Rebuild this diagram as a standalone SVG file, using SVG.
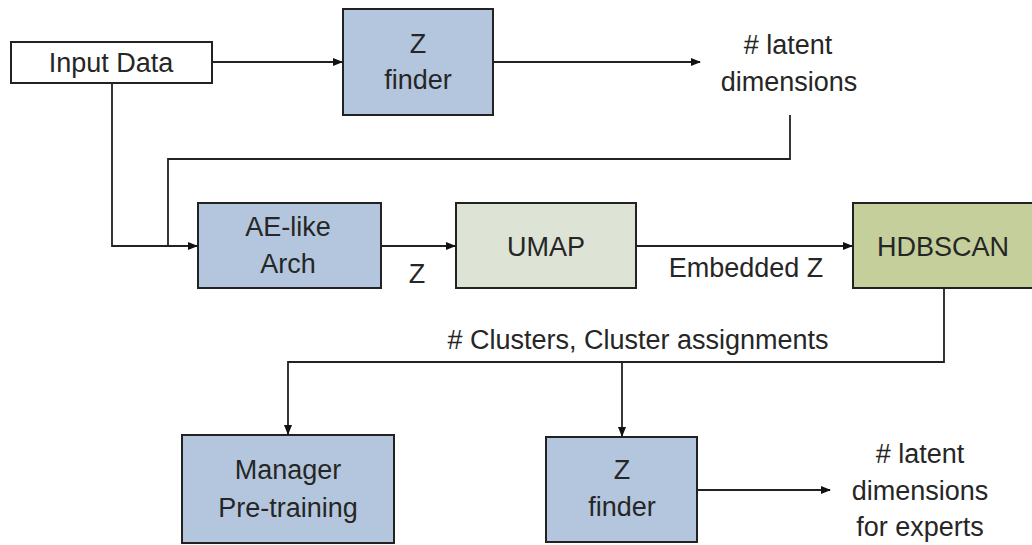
<svg xmlns="http://www.w3.org/2000/svg" width="1032" height="545" viewBox="0 0 1032 545">
<defs>
<marker id="ah" markerWidth="10" markerHeight="8" refX="9" refY="4" orient="auto" markerUnits="userSpaceOnUse">
<path d="M0,0 L10,4 L0,8 Z" fill="#111"/>
</marker>
<style>
.box{stroke:#222;stroke-width:2}
.blue{fill:#b4c6dd}
.umap{fill:#dde3d5}
.hdb{fill:#c4cf9c}
.t{font-family:"Liberation Sans",Arial,sans-serif;font-size:27px;fill:#262626;text-anchor:middle}
.c{fill:none;stroke:#222;stroke-width:1.8}
</style>
</defs>
<rect width="1032" height="545" fill="#fff"/>
<g id="input-data">
<rect class="box" x="11" y="42" width="201" height="41" fill="#fff"/>
<text class="t" x="111" y="72">Input Data</text>
</g>
<g id="z-finder-1">
<rect class="box blue" x="343" y="9" width="150" height="106"/>
<text class="t" x="418" y="53">Z</text>
<text class="t" x="418" y="89">finder</text>
</g>
<g id="latent-1">
<text class="t" x="788" y="54"># latent</text>
<text class="t" x="789" y="91">dimensions</text>
</g>
<g id="ae-arch">
<rect class="box blue" x="198" y="203" width="183" height="85"/>
<text class="t" x="288" y="236">AE-like</text>
<text class="t" x="288" y="273">Arch</text>
</g>
<g id="umap">
<rect class="box umap" x="456" y="203" width="180" height="85"/>
<text class="t" x="546" y="256">UMAP</text>
</g>
<g id="hdbscan">
<rect class="box hdb" x="853" y="203" width="182" height="85"/>
<text class="t" x="943" y="256">HDBSCAN</text>
</g>
<g id="manager">
<rect class="box blue" x="182" y="435" width="212" height="108"/>
<text class="t" x="288" y="479">Manager</text>
<text class="t" x="288" y="517">Pre-training</text>
</g>
<g id="z-finder-2">
<rect class="box blue" x="546" y="437" width="151" height="105"/>
<text class="t" x="622" y="479">Z</text>
<text class="t" x="622" y="516">finder</text>
</g>
<g id="latent-2">
<text class="t" x="920" y="463"># latent</text>
<text class="t" x="920" y="500">dimensions</text>
<text class="t" x="920" y="536">for experts</text>
</g>
<g id="connectors">
<path class="c" d="M212,62 H342" marker-end="url(#ah)"/>
<path class="c" d="M493,62 H700" marker-end="url(#ah)"/>
<path class="c" d="M112,83 V246 H197" marker-end="url(#ah)"/>
<path class="c" d="M790,115 V159 H168 V246"/>
<path class="c" d="M381,246 H455" marker-end="url(#ah)"/>
<path class="c" d="M636,246 H852" marker-end="url(#ah)"/>
<path class="c" d="M944,288 V362 H288 V434" marker-end="url(#ah)"/>
<path class="c" d="M622,362 V436" marker-end="url(#ah)"/>
<path class="c" d="M697,490 H830" marker-end="url(#ah)"/>
<text class="t" x="417" y="283">Z</text>
<text class="t" x="746" y="277">Embedded Z</text>
<text class="t" x="638" y="349"># Clusters, Cluster assignments</text>
</g>
</svg>
